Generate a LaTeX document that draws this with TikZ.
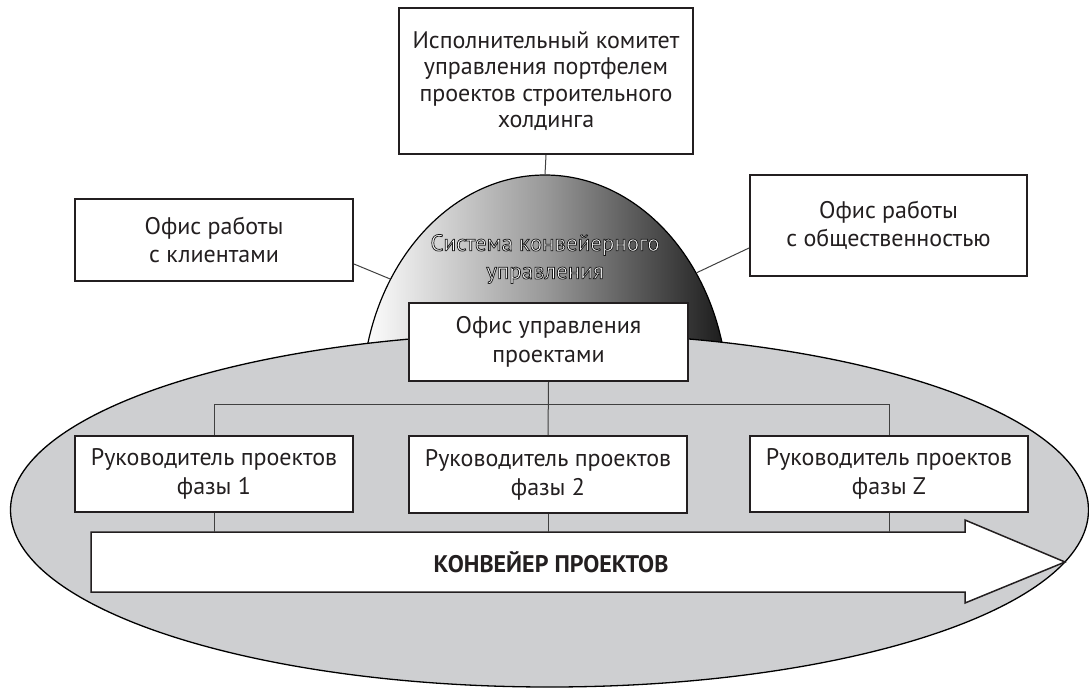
\documentclass[tikz,border=0pt]{standalone}
\usepackage{fontspec}
\setmainfont{PT Sans}
\usetikzlibrary{shapes.geometric,calc}
\definecolor{ellgray}{RGB}{206,207,209}
\definecolor{boxline}{RGB}{35,31,32}
\newcommand{\outlinedtext}[1]{\special{pdf:literal direct 0.1 G 0.75 w 2 Tr}#1\special{pdf:literal direct 0 Tr}}
\tikzset{
  box/.style={draw=boxline, text=boxline, line width=2pt, fill=white, inner sep=0pt, align=center,
    font=\fontsize{24}{28}\selectfont},
  conn/.style={draw=black!75, line width=1pt},
}
\begin{document}
\begin{tikzpicture}[x=1pt,y=-1pt]
\useasboundingbox (0,0) rectangle (1089,689);
% side boxes
\node[box, minimum width=294pt, minimum height=146pt, font=\fontsize{24}{26.5}\selectfont] (top) at (546,81)
  {Исполнительный комитет\\управления портфелем\\проектов строительного\\холдинга};
\node[box, minimum width=278pt, minimum height=82pt] (lbox) at (214,240)
  {Офис работы\\с клиентами};
\node[box, minimum width=277pt, minimum height=101pt] (rbox) at (888.5,225.5)
  {Офис работы\\с общественностью};
% dome
\node[ellipse, draw=black, line width=1.2pt, minimum width=366pt, minimum height=450pt,
  inner sep=0pt, left color=white, right color=black!90, middle color=black!40] (dome) at (545,400) {};
\draw[conn] ($(lbox.east)+(0,24)$) -- (dome.142);
\draw[conn] ($(rbox.west)+(0,22.5)$) -- (dome.40);
\draw[conn] (top.south) -- (dome.north);
% dome label (white text with dark outline)
\node[text=white, align=center, font=\fontsize{23}{28}\selectfont] (domelabel) at (545,259)
  {\outlinedtext{Система конвейерного}\\\outlinedtext{управления}};
% conveyor ellipse
\node[ellipse, draw=black, line width=1.3pt, fill=ellgray, minimum width=1078pt, minimum height=354pt,
  inner sep=0pt] (conv) at (549.5,510) {};
% PMO
\node[box, minimum width=279pt, minimum height=78pt, font=\fontsize{24}{29}\selectfont] (pmo) at (548.5,342)
  {Офис управления\\проектами};
% phase boxes
\node[box, minimum width=278pt, minimum height=76pt, font=\fontsize{24}{29}\selectfont] (p1) at (214,474)
  {Руководитель проектов\\фазы 1};
\node[box, minimum width=278pt, minimum height=77pt, font=\fontsize{24}{29}\selectfont] (p2) at (548,474.5)
  {Руководитель проектов\\фазы 2};
\node[box, minimum width=278pt, minimum height=76pt, font=\fontsize{24}{29}\selectfont] (p3) at (889,474)
  {Руководитель проектов\\фазы Z};
% org lines
\coordinate (hl) at (0,404);
\draw[conn] (pmo.south) -- (p2.north);
\draw[conn] (p1.north) -- (p1.north |- hl) -- (p3.north |- hl) -- (p3.north);
% conveyor arrow
\coordinate (arrtop) at (0,532);
\draw[draw=boxline, line width=1.5pt, fill=white, line join=miter]
  (91,532) -- (965,532) -- (965,520) -- (1065,562) -- (965,603) -- (965,592) -- (91,592) -- cycle;
\node[text=boxline, font=\fontsize{24}{28}\selectfont\bfseries] (arrlabel) at (551,562) {КОНВЕЙЕР ПРОЕКТОВ};
\draw[conn] (p1.south) -- (p1.south |- arrtop);
\draw[conn] (p2.south) -- (p2.south |- arrtop);
\draw[conn] (p3.south) -- (p3.south |- arrtop);
\end{tikzpicture}
\end{document}
